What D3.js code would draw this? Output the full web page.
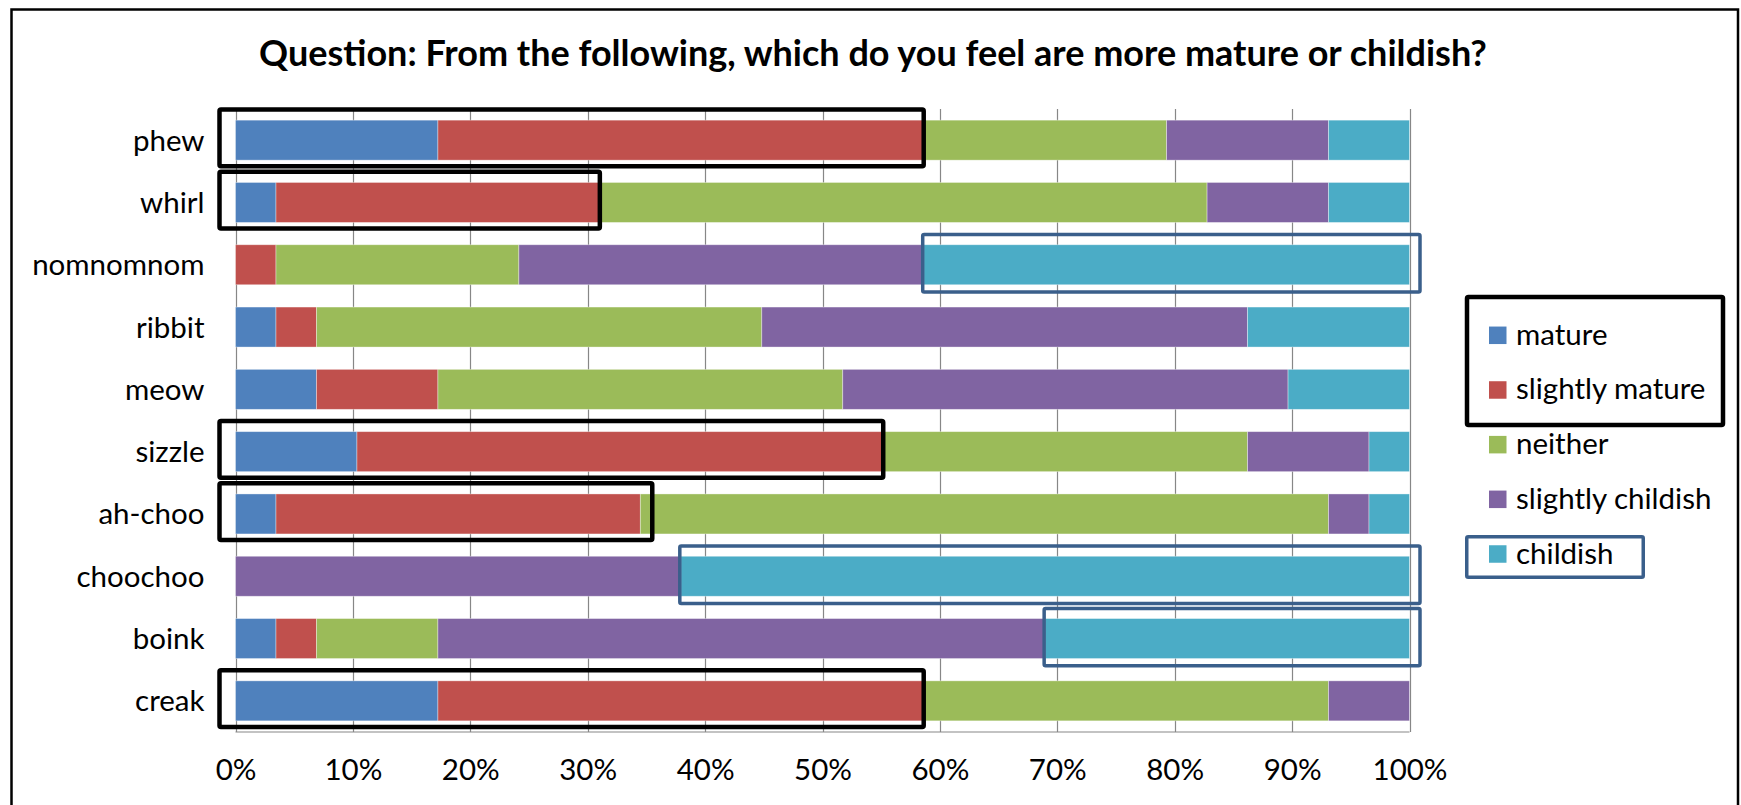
<!DOCTYPE html>
<html>
<head>
<meta charset="utf-8">
<script src="https://cdn.jsdelivr.net/npm/d3@7"></script>
<style>
  html, body { margin: 0; padding: 0; background: #fff; }
  svg { display: block; }
  text { font-family: Lato, "Noto Sans", sans-serif; fill: #000; }
</style>
</head>
<body>
<svg id="chart" width="1741" height="805"></svg>
<script>
// Survey responses (29 respondents per word)
const categories = ["phew", "whirl", "nomnomnom", "ribbit", "meow", "sizzle", "ah-choo", "choochoo", "boink", "creak"];
const seriesNames = ["mature", "slightly mature", "neither", "slightly childish", "childish"];
const mature           = [5, 1, 0, 1, 2, 3, 1, 0, 1, 5];
const slightlyMature   = [12, 8, 1, 1, 3, 13, 9, 0, 1, 12];
const neither          = [6, 15, 6, 11, 10, 9, 17, 0, 3, 10];
const slightlyChildish = [4, 3, 10, 12, 11, 3, 1, 11, 15, 2];
const childish         = [2, 2, 12, 4, 3, 1, 1, 18, 9, 0];
const tickValues = [0, 0.1, 0.2, 0.3, 0.4, 0.5, 0.6, 0.7, 0.8, 0.9, 1];
const titleText = "Question: From the following, which do you feel are more mature or childish?";

// Words whose "mature" side is outlined, and words whose "childish" side is outlined
const matureOutlined = ["phew", "whirl", "sizzle", "ah-choo", "creak"];
const childishOutlined = ["nomnomnom", "choochoo", "boink"];
// The ah-choo outline reaches a little past its mature share
const matureOutlineReach = { "ah-choo": 0.355 };

const colors = ["#4F81BD", "#C0504D", "#9BBB59", "#8064A2", "#4BACC6"];
const blackLine = "#000";
const blueLine = "#3A5F8B";

const rows = categories.map((c, i) => ({
  word: c,
  "mature": mature[i],
  "slightly mature": slightlyMature[i],
  "neither": neither[i],
  "slightly childish": slightlyChildish[i],
  "childish": childish[i]
}));

const stacked = d3.stack().keys(seriesNames).offset(d3.stackOffsetExpand)(rows);

const svg = d3.select("#chart");
const plot = { left: 235.5, right: 1409.5, top: 109, bottom: 732 };

const x = d3.scaleLinear().domain([0, 1]).range([plot.left, plot.right]);
const y = d3.scaleBand().domain(categories).range([plot.top, plot.bottom]).paddingInner(0.358).paddingOuter(0.179);

// Chart frame
svg.append("rect")
  .attr("x", 11.5).attr("y", 9.5)
  .attr("width", 1726.5).attr("height", 820)
  .attr("fill", "none").attr("stroke", "#000").attr("stroke-width", 2.5);

// Title
svg.append("text")
  .attr("x", 873).attr("y", 66)
  .attr("text-anchor", "middle")
  .attr("font-weight", 700)
  .attr("font-size", 36)
  .text(titleText);

// Vertical gridlines
svg.append("g")
  .selectAll("line")
  .data(tickValues)
  .join("line")
  .attr("x1", d => Math.round(x(d)) + 0.5).attr("x2", d => Math.round(x(d)) + 0.5)
  .attr("y1", plot.top).attr("y2", plot.bottom)
  .attr("stroke", "#878787").attr("stroke-width", 1.2);

// Bottom axis line
svg.append("line")
  .attr("x1", x(0)).attr("x2", x(1))
  .attr("y1", plot.bottom).attr("y2", plot.bottom)
  .attr("stroke", "#878787").attr("stroke-width", 1.2);

// Stacked bars
svg.append("g")
  .selectAll("g")
  .data(stacked)
  .join("g")
  .attr("fill", (d, i) => colors[i])
  .selectAll("rect")
  .data(d => d)
  .join("rect")
  .attr("x", d => x(d[0]))
  .attr("y", d => y(d.data.word))
  .attr("width", d => x(d[1]) - x(d[0]))
  .attr("height", y.bandwidth())
  .attr("stroke", "rgba(255,255,255,0.45)")
  .attr("stroke-width", d => (d[1] - d[0]) > 0 ? 0.8 : 0);

// Category labels
svg.append("g")
  .selectAll("text")
  .data(categories)
  .join("text")
  .attr("x", plot.left - 31)
  .attr("y", d => y(d) + y.bandwidth() / 2 + 10.5)
  .attr("text-anchor", "end")
  .attr("font-size", 29.5)
  .text(d => d);

// Value axis labels
const axis = d3.axisBottom(x).tickValues(tickValues).tickFormat(d3.format(".0%")).tickSize(0).tickPadding(0);
const axisG = svg.append("g").attr("transform", `translate(0, 780)`).call(axis);
axisG.select(".domain").remove();
axisG.selectAll("text")
  .attr("dy", 0)
  .attr("y", 0)
  .attr("font-size", 29.5)
  .attr("font-family", "Lato, 'Noto Sans', sans-serif")
  .attr("fill", "#000");

// Outlines around the mature side of selected words
const step = y.step();
const bandStart = w => y(w) - y.paddingInner() * step / 2;
svg.append("g")
  .selectAll("rect")
  .data(matureOutlined)
  .join("rect")
  .attr("x", plot.left - 16)
  .attr("y", w => bandStart(w) + 0.5)
  .attr("width", w => {
    const r = rows.find(d => d.word === w);
    const share = matureOutlineReach[w] ?? (r["mature"] + r["slightly mature"]) / 29;
    return x(share) - (plot.left - 16);
  })
  .attr("height", step - 5.5)
  .attr("rx", 1.5)
  .attr("fill", "none").attr("stroke", blackLine).attr("stroke-width", 4.5);

// Outlines around the childish side of selected words
svg.append("g")
  .selectAll("rect")
  .data(childishOutlined)
  .join("rect")
  .attr("x", w => {
    const s = stacked[4].find(d => d.data.word === w);
    return x(s[0]) - 1;
  })
  .attr("y", w => bandStart(w) + 1)
  .attr("width", w => {
    const s = stacked[4].find(d => d.data.word === w);
    return x(1) + 10.5 - (x(s[0]) - 1);
  })
  .attr("height", step - 5)
  .attr("rx", 1.5)
  .attr("fill", "none").attr("stroke", blueLine).attr("stroke-width", 3.5);

// Legend
const legend = svg.append("g");
const legendY = d3.scalePoint().domain(seriesNames).range([335.3, 554]);
legend.selectAll("rect.swatch")
  .data(seriesNames)
  .join("rect")
  .attr("class", "swatch")
  .attr("x", 1489).attr("y", d => legendY(d) - 8.75)
  .attr("width", 17.5).attr("height", 17.5)
  .attr("fill", (d, i) => colors[i]);
legend.selectAll("text")
  .data(seriesNames)
  .join("text")
  .attr("x", 1516)
  .attr("y", d => legendY(d) + 9.5)
  .attr("font-size", 29.5)
  .text(d => d);

// Legend outlines
legend.append("rect")
  .attr("x", 1467).attr("y", 297)
  .attr("width", 256).attr("height", 128)
  .attr("rx", 1.5)
  .attr("fill", "none").attr("stroke", blackLine).attr("stroke-width", 4.5);
legend.append("rect")
  .attr("x", 1466.75).attr("y", 536.75)
  .attr("width", 176.5).attr("height", 40.5)
  .attr("rx", 1.5)
  .attr("fill", "none").attr("stroke", blueLine).attr("stroke-width", 3.5);
</script>
</body>
</html>
